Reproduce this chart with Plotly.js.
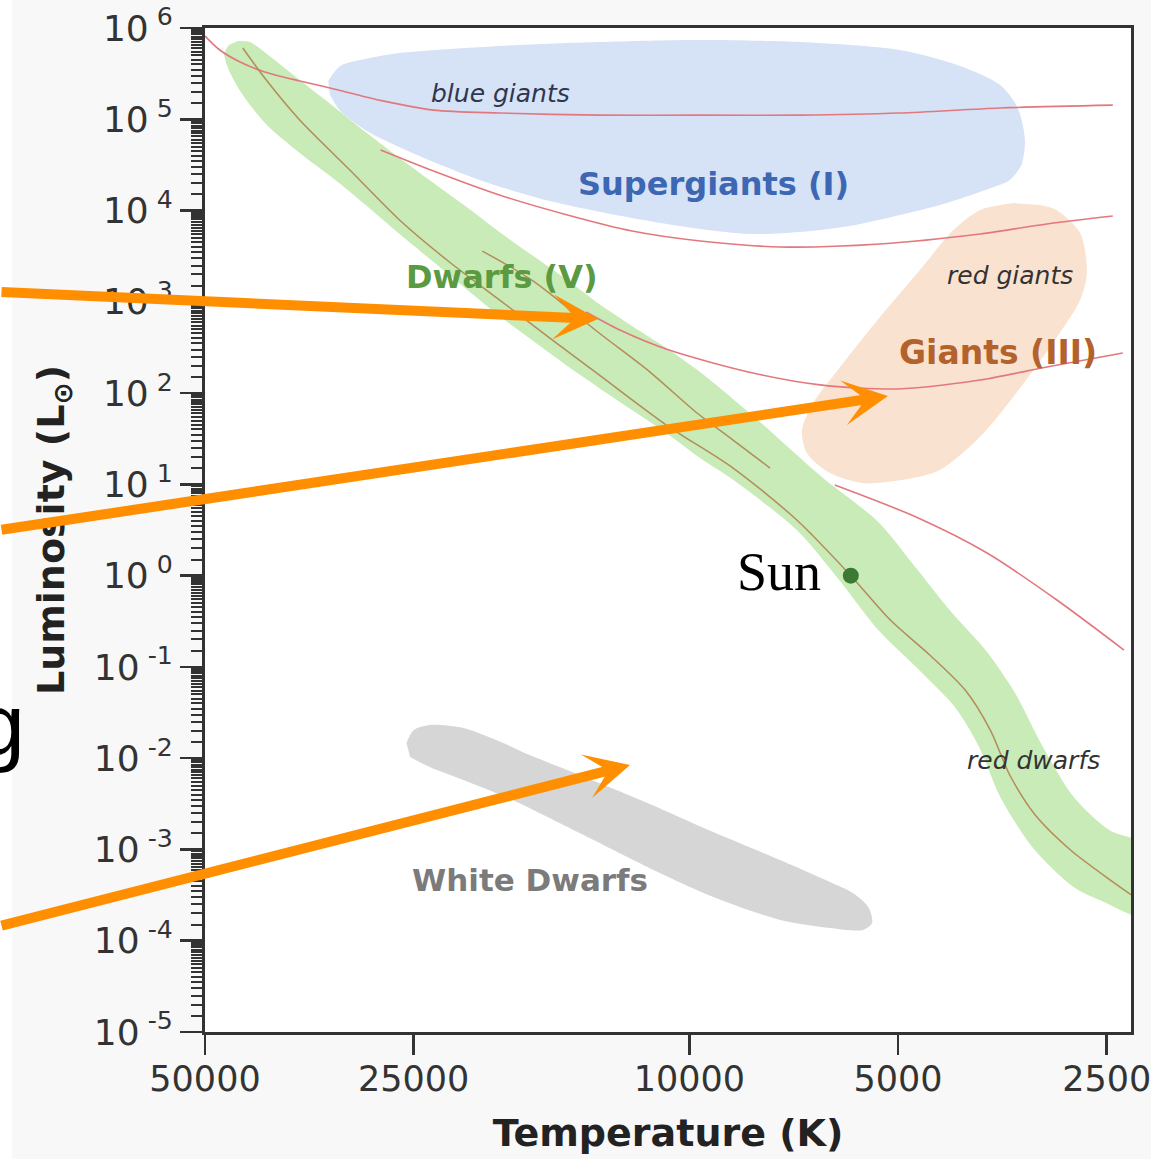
<!DOCTYPE html>
<html>
<head>
<meta charset="utf-8">
<script src="https://cdn.plot.ly/plotly-3.0.1.min.js"></script>
<style>
  html, body { margin: 0; padding: 0; background: #f8f8f8; }
  #chart { width: 1151px; height: 1159px; }
</style>
</head>
<body>
<div id="chart"></div>
<script>
// ---- Data: temperature (K) and luminosity (L_sun) ----

// Supergiants (I) region outline
const supergiantT = [33200, 31900, 28900, 26200, 18800, 13500, 9650, 6930, 4970, 4070, 3560, 3360, 3280, 3320, 3450, 3740, 4350, 4970, 5870, 6930, 8180, 9650, 12100, 15900, 19900, 24700, 29200, 31900, 33000];
const supergiantL = [2.63e5, 3.84e5, 4.69e5, 5.32e5, 6.35e5, 7.02e5, 7.39e5, 7.02e5, 5.74e5, 3.84e5, 2.37e5, 1.33e5, 5.93e4, 3.15e4, 2.16e4, 1.68e4, 1.15e4, 8.94e3, 6.77e3, 5.82e3, 5.53e3, 6.28e3, 8.28e3, 1.27e4, 2.11e4, 4.06e4, 7.44e4, 1.23e5, 1.84e5];

// Giants (III) region outline
const giantT = [3120, 2950, 2730, 2670, 2730, 2990, 3410, 3810, 4350, 4920, 5620, 6270, 6770, 6880, 6630, 6060, 5310, 4650, 4160, 3810, 3410];
const giantL = [1.15e4, 1.01e4, 5670, 2070, 1050, 354, 90.6, 33.0, 14.4, 11.2, 10.3, 13.3, 22.1, 39.4, 77.9, 193, 682, 2230, 6120, 1.01e4, 1.21e4];

// Dwarfs (V) main-sequence band: upper edge, then lower edge back
const dwarfUpperT = [44800, 43100, 40700, 36500, 32700, 29200, 26200, 23400, 20900, 18800, 16800, 15000, 13500, 12100, 10800, 9650, 7910, 6460, 5340, 4710, 4190, 3720, 3390, 3090, 2790, 2480, 2160];
const dwarfUpperL = [7.20e5, 7.02e5, 5.19e5, 2.69e5, 1.40e5, 7.07e4, 3.76e4, 2.00e4, 1.07e4, 5820, 3180, 1730, 946, 543, 312, 170, 48.2, 12.3, 3.87, 1.21, 0.399, 0.146, 0.0518, 0.0133, 0.00375, 0.00163, 0.00104];
const dwarfLowerT = [2160, 2560, 2790, 3200, 3560, 3820, 4140, 4710, 5340, 6080, 7000, 8650, 9650, 10800, 12100, 13500, 15000, 16800, 18800, 20900, 23400, 26200, 29200, 32700, 36500, 40700, 44100, 46200, 46900, 46200];
const dwarfLowerL = [1.77e-4, 2.79e-4, 3.88e-4, 1.06e-3, 3.75e-3, 0.0133, 0.0363, 0.0997, 0.254, 0.895, 3.16, 11.2, 19.4, 36.5, 65.3, 114, 198, 372, 699, 1350, 2730, 5530, 1.12e4, 2.27e4, 4.27e4, 8.65e4, 1.84e5, 3.47e5, 5.19e5, 6.51e5];

// White dwarfs region outline
const whiteDwarfT = [25600, 25000, 23700, 21200, 19000, 17000, 14400, 11500, 9240, 7400, 6270, 5810, 5520, 5450, 5620, 6270, 7400, 9240, 11500, 14400, 18000, 21200, 23700, 25300];
const whiteDwarfL = [0.01466, 0.0203, 0.0231, 0.0214, 0.0158, 0.01083, 6.54e-3, 3.23e-3, 1.55e-3, 7.66e-4, 4.40e-4, 3.33e-4, 2.34e-4, 1.56e-4, 1.31e-4, 1.38e-4, 1.69e-4, 3.01e-4, 6.42e-4, 1.51e-3, 3.48e-3, 5.76e-3, 8.00e-3, 0.0103];

// Main-sequence lines inside the band
const msLineT = [44100, 41000, 36500, 30900, 26200, 22200, 18800, 15900, 13500, 10800, 8650, 7000, 5850, 5130, 4500, 4000, 3680, 3450, 3170, 2820, 2470, 2270];
const msLineL = [6.04e5, 2.83e5, 9.82e4, 2.78e4, 7880, 2730, 1050, 401, 158, 44.7, 15.1, 4.07, 1.0, 0.326, 0.135, 0.0558, 0.0203, 6.54e-3, 2.38e-3, 9.86e-4, 4.62e-4, 2.94e-4];
const msLine2T = [19900, 16800, 13500, 11400, 9750, 8650, 7650];
const msLine2L = [3600, 1690, 455, 170, 60.5, 30.6, 15.1];

// Luminosity-class lines (red)
const classAT = [50000, 47600, 44500, 41000, 36500, 33000, 27700, 23400, 18800, 13500, 9650, 6930, 4970, 3560, 2450];
const classAL = [8.17e5, 5.74e5, 4.24e5, 3.30e5, 2.63e5, 2.20e5, 1.59e5, 1.26e5, 1.17e5, 1.11e5, 1.11e5, 1.11e5, 1.17e5, 1.33e5, 1.43e5];
const classBT = [27900, 23400, 18800, 15000, 12100, 9650, 7400, 5310, 3810, 3050, 2450];
const classBL = [4.61e4, 2.71e4, 1.48e4, 8940, 5970, 4640, 3990, 4300, 5530, 7120, 8710];
const classCT = [14100, 12600, 10700, 8100, 6480, 5000, 3810, 3050, 2370];
const classCL = [773, 491, 296, 166, 123, 111, 139, 193, 275];
const classDT = [6170, 4710, 3720, 2950, 2360];
const classDL = [9.84, 4.39, 1.77, 0.541, 0.153];

// The Sun
const sunT = [5850];
const sunL = [1];

// Axis ticks
const xTickVals = [50000, 25000, 10000, 5000, 2500];
const xTickText = ["50000", "25000", "10000", "5000", "2500"];
const yTickVals = [1e-5, 1e-4, 1e-3, 1e-2, 1e-1, 1, 10, 100, 1e3, 1e4, 1e5, 1e6];
const yTickText = ["10<sup> -5</sup>", "10<sup> -4</sup>", "10<sup> -3</sup>", "10<sup> -2</sup>", "10<sup> -1</sup>", "10<sup> 0</sup>", "10<sup> 1</sup>", "10<sup> 2</sup>", "10<sup> 3</sup>", "10<sup> 4</sup>", "10<sup> 5</sup>", "10<sup> 6</sup>"];
const minorMantissas = [1.5, 2, 2.5, 3, 3.5, 4, 4.5, 5, 5.5, 6, 6.5, 7, 7.5, 8, 8.5, 9, 9.5];

// Region labels
const labelText = ["<i>blue giants</i>", "<b>Supergiants (I)</b>", "<b>Dwarfs (V)</b>", "<i>red giants</i>", "<b>Giants (III)</b>", "<i>red dwarfs</i>", "<b>White Dwarfs</b>"];
const labelT = [18760, 9245, 18640, 3447, 3587, 3192, 16980];
const labelL = [1.94e5, 1.95e4, 1870, 1920, 275, 9.55e-3, 4.62e-4];

// Points the orange arrows aim at
const arrowTipT = [13550, 5170, 12180];
const arrowTipL = [648, 92.9, 8.41e-3];

// ---- Styles ----
const labelStyle = [
  {size: 25, color: '#2f3650'},
  {size: 32, color: '#3d67b3'},
  {size: 32, color: '#5b9a41'},
  {size: 25, color: '#333333'},
  {size: 33, color: '#b4622c'},
  {size: 25, color: '#333333'},
  {size: 31, color: '#7b7b7b'}
];
const arrowTail = [{ax: -608, ay: -27}, {ax: -898, ay: 134}, {ax: -640, ay: 161}];

function region(T, L, color) {
  return {x: T, y: L, type: 'scatter', mode: 'lines', fill: 'toself', fillcolor: color,
          line: {width: 0, shape: 'spline', smoothing: 0.8, color: color}, hoverinfo: 'skip', showlegend: false};
}
function curve(T, L, color, w) {
  return {x: T, y: L, type: 'scatter', mode: 'lines',
          line: {width: w, color: color, shape: 'spline', smoothing: 0.8}, hoverinfo: 'skip', showlegend: false};
}

const traces = [
  region(supergiantT, supergiantL, '#d6e2f6'),
  region(giantT, giantL, '#fae2d0'),
  region(whiteDwarfT, whiteDwarfL, '#d6d6d6'),
  region(dwarfUpperT.concat(dwarfLowerT), dwarfUpperL.concat(dwarfLowerL), '#c8ebb7'),
  curve(classAT, classAL, '#e2787d', 1.6),
  curve(classBT, classBL, '#e2787d', 1.6),
  curve(classCT, classCL, '#e2787d', 1.6),
  curve(classDT, classDL, '#e2787d', 1.6),
  curve(msLineT, msLineL, '#b48c5c', 1.5),
  curve(msLine2T, msLine2L, '#b48c5c', 1.5),
  {x: sunT, y: sunL, type: 'scatter', mode: 'markers', marker: {size: 16, color: '#3c7a34'}, hoverinfo: 'skip', showlegend: false}
];

const minorVals = [];
for (let e = -5; e < 6; e++) {
  minorMantissas.forEach(m => minorVals.push(m * Math.pow(10, e)));
}

const annotations = [];
labelText.forEach((t, i) => {
  annotations.push({x: Math.log10(labelT[i]), y: Math.log10(labelL[i]), xref: 'x', yref: 'y',
    text: t, showarrow: false, xanchor: 'center', yanchor: 'middle',
    font: {family: 'DejaVu Sans', size: labelStyle[i].size, color: labelStyle[i].color}});
});
annotations.push({x: Math.log10(sunT[0]), y: Math.log10(sunL[0]), xref: 'x', yref: 'y', text: 'Sun',
  showarrow: false, xanchor: 'right', yanchor: 'middle', xshift: -28, yshift: 4,
  font: {family: 'Liberation Serif', size: 54, color: '#000000'}});
arrowTipT.forEach((T, i) => {
  annotations.push({x: Math.log10(T), y: Math.log10(arrowTipL[i]), xref: 'x', yref: 'y', text: '',
    showarrow: true, arrowhead: 3, arrowsize: 0.75, arrowwidth: 10, arrowcolor: '#ff8f00',
    ax: arrowTail[i].ax, ay: arrowTail[i].ay, standoff: 0});
});
// cut-off letter at the left edge of the slide
annotations.push({x: -0.192, y: 0.306, xref: 'paper', yref: 'paper', text: 'g', showarrow: false,
  xanchor: 'right', yanchor: 'middle', font: {family: 'Liberation Sans', size: 88, color: '#000000'}});

const yTickFont = {family: 'DejaVu Sans', size: 36, color: '#333333'};
const xTickFont = {family: 'DejaVu Sans', size: 35, color: '#333333'};

const layout = {
  width: 1151, height: 1159,
  margin: {l: 205, r: 20, t: 28, b: 127, pad: 0},
  paper_bgcolor: '#f8f8f8',
  plot_bgcolor: '#ffffff',
  showlegend: false,
  hovermode: false,
  xaxis: {
    type: 'log', range: [Math.log10(50000), Math.log10(2306)],
    tickmode: 'array', tickvals: xTickVals, ticktext: xTickText,
    ticks: 'outside', ticklen: 20, tickwidth: 2.5, tickcolor: '#333333',
    ticklabeloverflow: 'allow', ticklabelstandoff: -6,
    showline: true, linewidth: 3, linecolor: '#333333', mirror: true,
    showgrid: false, zeroline: false, automargin: false,
    tickfont: xTickFont,
    title: {text: '<b>Temperature (K)</b>', font: {family: 'DejaVu Sans', size: 38, color: '#222222'}, standoff: 22}
  },
  yaxis: {
    type: 'log', range: [-5, 6],
    tickmode: 'array', tickvals: yTickVals, ticktext: yTickText,
    ticks: 'outside', ticklen: 22, tickwidth: 2.5, tickcolor: '#333333',
    showline: true, linewidth: 3, linecolor: '#333333', mirror: true,
    showgrid: false, zeroline: false, automargin: false,
    tickfont: yTickFont,
    minor: {tickmode: 'array', tickvals: minorVals, ticks: 'outside', ticklen: 11, tickwidth: 2, tickcolor: '#333333', showgrid: false},
    title: {text: '<b>Luminosity (L<sub>⊙</sub>)</b>', font: {family: 'DejaVu Sans', size: 38, color: '#222222'}, standoff: 18}
  },
  shapes: [
    {type: 'rect', xref: 'paper', yref: 'paper', x0: -0.25, x1: -0.2085, y0: -0.2, y1: 1.1,
     fillcolor: '#ffffff', line: {width: 0}, layer: 'below'}
  ],
  annotations: annotations
};

Plotly.newPlot('chart', traces, layout, {staticPlot: true, displayModeBar: false});
</script>
</body>
</html>
